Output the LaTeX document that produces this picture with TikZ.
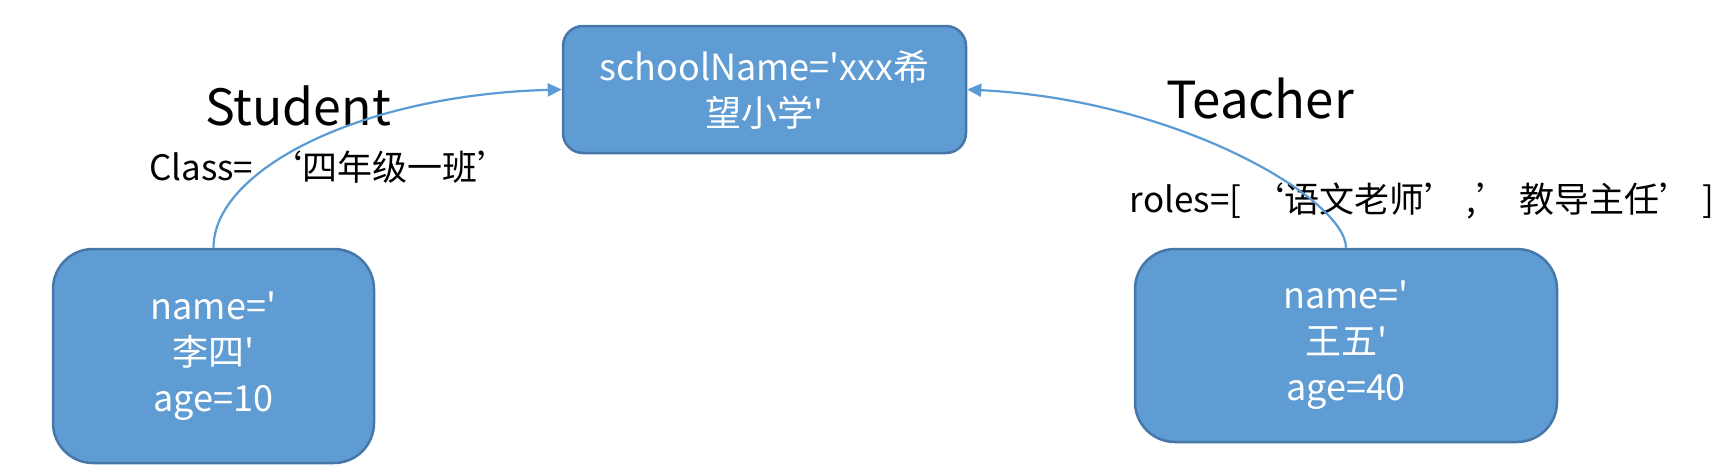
\documentclass[tikz,border=0pt]{standalone}
\usepackage{fontspec}
\newfontfamily\basef{Noto Sans CJK SC}
\newcommand{\sq}{\char"0027\relax}
\usetikzlibrary{arrows.meta}
\definecolor{boxfill}{HTML}{5F9CD3}
\definecolor{boxdraw}{HTML}{4677A8}
\definecolor{arrowc}{HTML}{5B9BD5}
\begin{document}
\begin{tikzpicture}[x=1pt,y=-1pt,
  box/.style={draw=boxdraw, fill=boxfill, line width=2.5pt, text=white, align=center,
    font=\basef\fontsize{36}{46}\selectfont, inner sep=0pt},
  link/.style={draw=arrowc, line width=2.2pt, -{Triangle[length=14pt,width=13pt]}},
  lbl/.style={inner sep=0pt, anchor=base}]
\useasboundingbox (0,0) rectangle (1729,472);
\node[box, minimum width=403pt, minimum height=127pt, rounded corners=20pt] (school) at (764.5,89.5) {schoolName=\sq xxx希\\望小学\sq};
\node[box, minimum width=321pt, minimum height=214pt, rounded corners=40pt] (stu) at (213.5,356) {name=\sq\\李四\sq\\age=10};
\node[box, minimum width=422pt, minimum height=193pt, rounded corners=40pt] (tea) at (1346,345.5) {name=\sq\\王五\sq\\age=40};
\node[lbl, font=\basef\fontsize{50}{60}\selectfont] (stulbl) at (298,125) {Student};
\node[lbl, anchor=base west, font=\basef\fontsize{35}{44}\selectfont] (classlbl) at (149,180) {Class=\ \,‘四年级一班’};
\node[lbl, font=\basef\fontsize{51}{60}\selectfont] (tealbl) at (1260,118) {Teacher};
\node[lbl, font=\basef\fontsize{35}{44}\selectfont] (roleslbl) at (1422,212) {roles=[\ ‘语文老师’\ ,’\ 教导主任’\ ]};
\draw[link] (stu.north) .. controls (213.5,170) and (360,95) .. (school.west);
\draw[link] (tea.north) .. controls (1346,200) and (1180,100) .. (school.east);
\end{tikzpicture}
\end{document}
